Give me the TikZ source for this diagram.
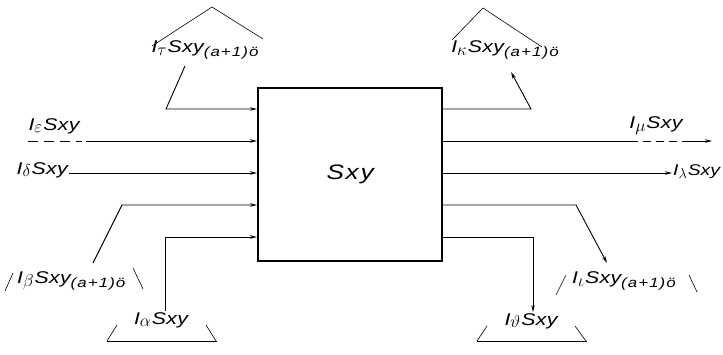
\documentclass[tikz,border=0pt]{standalone}
\usepackage{fontspec}
\setmainfont[FakeStretch=1.25]{Liberation Sans}
\usetikzlibrary{arrows.meta}
\newcommand{\gsub}[1]{\raisebox{-0.3ex}{$#1$}\hspace{1pt}}
\newcommand{\tsub}[1]{\raisebox{-0.45ex}{\fontsize{13.5}{14}\selectfont\addfontfeature{LetterSpace=8}#1}}
\tikzset{
  wire/.style={line width=0.9pt},
  arr/.style={wire,-{Stealth[length=7pt,width=3.6pt]}},
  lab/.style={font=\fontsize{17}{19}\selectfont\itshape\addfontfeature{LetterSpace=2}, inner sep=1pt},
  tickline/.style={line width=0.6pt},
}
\begin{document}
\begin{tikzpicture}[x=1pt,y=-1pt]
\useasboundingbox (0,0) rectangle (723,355);
% central box
\node[draw, line width=2.2pt, minimum width=184pt, minimum height=173pt, anchor=north west,
      font=\fontsize{21}{24}\selectfont\itshape\addfontfeature{LetterSpace=8}] (box) at (257,87) {Sxy};

% ---------- left side ----------
\coordinate (l1) at (166,109);
\coordinate (l1t) at (185,66);
\coordinate (l2) at (86,141);
\coordinate (l4) at (122,205);
\coordinate (l4b) at (93,263);
\coordinate (l5) at (165,237);
\coordinate (l5b) at (165,311);

\node[lab] (ltau) at (205,50) {I\gsub{\tau}Sxy\tsub{(a+1)ö}};
\node[lab] (leps) at (54,126) {I\gsub{\varepsilon}Sxy};
\node[lab, anchor=east] (ldel) at (69,170) {I\gsub{\delta}Sxy};
\node[lab, anchor=west] (lbet) at (16,281) {I\gsub{\beta}Sxy\tsub{(a+1)ö}};
\node[lab] (lalp) at (161,320) {I\gsub{\alpha}Sxy};

\draw[arr] (l1t) -- (l1) -- (l1 -| box.west);
\draw[arr] (l2) -- (l2 -| box.west);
\draw[wire, dashed, dash pattern=on 10pt off 6pt] (28,141) -- (82,141);
\draw[arr] (ldel.east |- 0,173) -- (box.west |- 0,173);
\draw[arr] (l4b) -- (l4) -- (l4 -| box.west);
\draw[arr] (l5b) -- (l5) -- (l5 -| box.west);

% marks around left labels
\draw[tickline] (152,46) -- (212,7) -- (263,39);
\draw[tickline] (5,291) -- (13,273);
\draw[tickline] (133,268) -- (143,289);
\draw[tickline] (107,341) -- (117,325);
\draw[tickline] (206,325) -- (216,341);
\draw[tickline] (107,341) -- (217,341);

% ---------- right side ----------
\coordinate (r1) at (531,109);
\coordinate (r1t) at (511,72);
\coordinate (r2) at (712,141);
\coordinate (r2a) at (630,141);
\coordinate (r2b) at (690,141);
\coordinate (r3) at (672,173);
\coordinate (r4) at (576,205);
\coordinate (r4b) at (607,263);
\coordinate (r5) at (533,237);
\coordinate (r5b) at (533,312);

\node[lab] (rkap) at (505,50) {I\gsub{\kappa}Sxy\tsub{(a+1)ö}};
\node[lab] (rmu) at (656,126) {I\gsub{\mu}Sxy};
\node[lab, anchor=west, inner sep=0pt, font=\fontsize{15.5}{17}\selectfont\itshape] (rlam) at (673,172) {I\gsub{\lambda}Sxy};
\node[lab] (riot) at (624,281) {I\gsub{\iota}Sxy\tsub{(a+1)ö}};
\node[lab] (rthe) at (531,321) {I\gsub{\vartheta}Sxy};

\draw[arr] (box.east |- r1) -- (r1) -- (r1t);
\draw[wire] (box.east |- r2) -- (r2a);
\draw[wire, dashed, dash pattern=on 8pt off 5pt] (r2a) -- (r2b);
\draw[arr] (r2b) -- (r2);
\draw[arr] (box.east |- r3) -- (r3);
\draw[arr] (box.east |- r4) -- (r4) -- (r4b);
\draw[arr] (box.east |- r5) -- (r5) -- (r5b);

\draw[tickline] (452,40) -- (483,8) -- (542,47);
\draw[tickline] (556,295) -- (566,275);
\draw[tickline] (689,275) -- (697,292);
\draw[tickline] (477,341) -- (487,326);
\draw[tickline] (575,326) -- (586,341);
\draw[tickline] (477,341) -- (587,341);
\end{tikzpicture}
\end{document}
